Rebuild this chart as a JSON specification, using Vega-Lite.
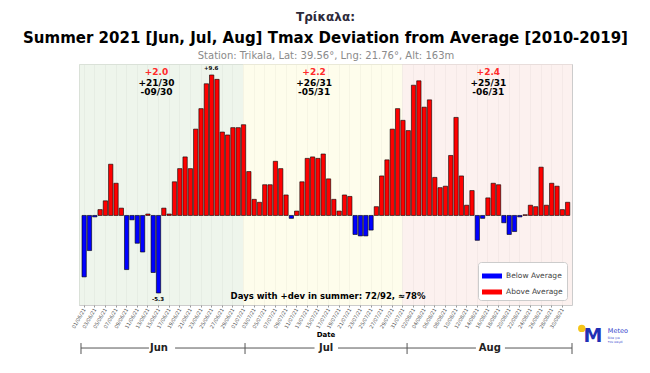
{
  "$schema": "https://vega.github.io/schema/vega-lite/v6.json",
  "width": 493,
  "height": 241,
  "autosize": {"type": "none"},
  "padding": {"left": 79, "top": 64, "right": 78, "bottom": 68},
  "background": "#ffffff",
  "config": {
    "font": "DejaVu Sans",
    "view": {"stroke": "#cccccc", "strokeWidth": 1}
  },
  "title": {
    "text": "Τρίκαλα:",
    "subtitle": "Summer 2021 [Jun, Jul, Aug] Tmax Deviation from Average [2010-2019]",
    "anchor": "middle",
    "font": "DejaVu Sans",
    "fontSize": 12,
    "fontWeight": "bold",
    "color": "#2d2a3a",
    "subtitleFont": "DejaVu Sans",
    "subtitleFontSize": 15,
    "subtitleFontWeight": "bold",
    "subtitleColor": "#000000",
    "subtitlePadding": 7,
    "offset": 3
  },
  "resolve": {"axis": {"x": "independent"}, "scale": {"color": "independent"}, "legend": {"color": "independent"}},
  "layer": [
    {
      "data": {"values": [
        {"d": "2021-05-31T15:00:00Z", "d2": "2021-07-01T12:00:00Z", "m": "Jun"},
        {"d": "2021-07-01T12:00:00Z", "d2": "2021-07-31T12:00:00Z", "m": "Jul"},
        {"d": "2021-07-31T12:00:00Z", "d2": "2021-09-01T10:00:00Z", "m": "Aug"}
      ]},
      "mark": {"type": "rect", "opacity": 0.6},
      "encoding": {
        "x": {"field": "d", "type": "temporal",
          "scale": {"type": "utc", "domain": [{"year": 2021, "month": 5, "date": 31, "hours": 15, "utc": true}, {"year": 2021, "month": 9, "date": 1, "hours": 10, "utc": true}]},
          "axis": {"orient": "top", "title": "Station: Trikala, Lat: 39.56°, Lng: 21.76°, Alt: 163m", "titleFontSize": 10, "titleColor": "#8a8a8a", "titleFontWeight": "normal", "labels": false, "ticks": false, "domain": false, "grid": false, "titlePadding": 4}},
        "x2": {"field": "d2"},
        "y": {"datum": 10.35, "type": "quantitative"},
        "y2": {"datum": -6.12},
        "color": {"field": "m", "type": "nominal", "scale": {"domain": ["Jun", "Jul", "Aug"], "range": ["#e3eedf", "#fdfcdf", "#fae8e4"]}, "legend": null}
      }
    },
    {
      "data": {"values": [
        {"d": "2021-06-01", "v": -4.2, "s": "Below Average"},
        {"d": "2021-06-02", "v": -2.4, "s": "Below Average"},
        {"d": "2021-06-03", "v": -0.1, "s": "Below Average"},
        {"d": "2021-06-04", "v": 0.4, "s": "Above Average"},
        {"d": "2021-06-05", "v": 1.0, "s": "Above Average"},
        {"d": "2021-06-06", "v": 3.5, "s": "Above Average"},
        {"d": "2021-06-07", "v": 2.2, "s": "Above Average"},
        {"d": "2021-06-08", "v": 0.5, "s": "Above Average"},
        {"d": "2021-06-09", "v": -3.7, "s": "Below Average"},
        {"d": "2021-06-10", "v": -0.3, "s": "Below Average"},
        {"d": "2021-06-11", "v": -1.9, "s": "Below Average"},
        {"d": "2021-06-12", "v": -2.5, "s": "Below Average"},
        {"d": "2021-06-13", "v": 0.1, "s": "Above Average"},
        {"d": "2021-06-14", "v": -3.9, "s": "Below Average"},
        {"d": "2021-06-15", "v": -5.3, "s": "Below Average"},
        {"d": "2021-06-16", "v": 0.5, "s": "Above Average"},
        {"d": "2021-06-17", "v": 0.1, "s": "Above Average"},
        {"d": "2021-06-18", "v": 2.3, "s": "Above Average"},
        {"d": "2021-06-19", "v": 3.2, "s": "Above Average"},
        {"d": "2021-06-20", "v": 4.0, "s": "Above Average"},
        {"d": "2021-06-21", "v": 3.2, "s": "Above Average"},
        {"d": "2021-06-22", "v": 5.9, "s": "Above Average"},
        {"d": "2021-06-23", "v": 7.3, "s": "Above Average"},
        {"d": "2021-06-24", "v": 9.0, "s": "Above Average"},
        {"d": "2021-06-25", "v": 9.6, "s": "Above Average"},
        {"d": "2021-06-26", "v": 9.3, "s": "Above Average"},
        {"d": "2021-06-27", "v": 5.7, "s": "Above Average"},
        {"d": "2021-06-28", "v": 5.5, "s": "Above Average"},
        {"d": "2021-06-29", "v": 6.0, "s": "Above Average"},
        {"d": "2021-06-30", "v": 6.0, "s": "Above Average"},
        {"d": "2021-07-01", "v": 6.2, "s": "Above Average"},
        {"d": "2021-07-02", "v": 3.0, "s": "Above Average"},
        {"d": "2021-07-03", "v": 1.1, "s": "Above Average"},
        {"d": "2021-07-04", "v": 0.9, "s": "Above Average"},
        {"d": "2021-07-05", "v": 2.1, "s": "Above Average"},
        {"d": "2021-07-06", "v": 2.1, "s": "Above Average"},
        {"d": "2021-07-07", "v": 3.7, "s": "Above Average"},
        {"d": "2021-07-08", "v": 3.2, "s": "Above Average"},
        {"d": "2021-07-09", "v": 1.4, "s": "Above Average"},
        {"d": "2021-07-10", "v": -0.2, "s": "Below Average"},
        {"d": "2021-07-11", "v": 0.3, "s": "Above Average"},
        {"d": "2021-07-12", "v": 2.3, "s": "Above Average"},
        {"d": "2021-07-13", "v": 3.9, "s": "Above Average"},
        {"d": "2021-07-14", "v": 4.0, "s": "Above Average"},
        {"d": "2021-07-15", "v": 3.9, "s": "Above Average"},
        {"d": "2021-07-16", "v": 4.2, "s": "Above Average"},
        {"d": "2021-07-17", "v": 2.5, "s": "Above Average"},
        {"d": "2021-07-18", "v": 1.1, "s": "Above Average"},
        {"d": "2021-07-19", "v": 0.3, "s": "Above Average"},
        {"d": "2021-07-20", "v": 1.4, "s": "Above Average"},
        {"d": "2021-07-21", "v": 1.3, "s": "Above Average"},
        {"d": "2021-07-22", "v": -1.3, "s": "Below Average"},
        {"d": "2021-07-23", "v": -1.4, "s": "Below Average"},
        {"d": "2021-07-24", "v": -1.4, "s": "Below Average"},
        {"d": "2021-07-25", "v": -1.0, "s": "Below Average"},
        {"d": "2021-07-26", "v": 0.6, "s": "Above Average"},
        {"d": "2021-07-27", "v": 2.7, "s": "Above Average"},
        {"d": "2021-07-28", "v": 3.8, "s": "Above Average"},
        {"d": "2021-07-29", "v": 5.9, "s": "Above Average"},
        {"d": "2021-07-30", "v": 7.3, "s": "Above Average"},
        {"d": "2021-07-31", "v": 6.5, "s": "Above Average"},
        {"d": "2021-08-01", "v": 5.8, "s": "Above Average"},
        {"d": "2021-08-02", "v": 8.9, "s": "Above Average"},
        {"d": "2021-08-03", "v": 9.2, "s": "Above Average"},
        {"d": "2021-08-04", "v": 7.4, "s": "Above Average"},
        {"d": "2021-08-05", "v": 7.9, "s": "Above Average"},
        {"d": "2021-08-06", "v": 2.6, "s": "Above Average"},
        {"d": "2021-08-07", "v": 1.9, "s": "Above Average"},
        {"d": "2021-08-08", "v": 2.0, "s": "Above Average"},
        {"d": "2021-08-09", "v": 4.1, "s": "Above Average"},
        {"d": "2021-08-10", "v": 6.7, "s": "Above Average"},
        {"d": "2021-08-11", "v": 2.7, "s": "Above Average"},
        {"d": "2021-08-12", "v": 0.7, "s": "Above Average"},
        {"d": "2021-08-13", "v": 1.7, "s": "Above Average"},
        {"d": "2021-08-14", "v": -1.7, "s": "Below Average"},
        {"d": "2021-08-15", "v": -0.2, "s": "Below Average"},
        {"d": "2021-08-16", "v": 1.2, "s": "Above Average"},
        {"d": "2021-08-17", "v": 2.2, "s": "Above Average"},
        {"d": "2021-08-18", "v": 2.1, "s": "Above Average"},
        {"d": "2021-08-19", "v": -0.5, "s": "Below Average"},
        {"d": "2021-08-20", "v": -1.3, "s": "Below Average"},
        {"d": "2021-08-21", "v": -1.1, "s": "Below Average"},
        {"d": "2021-08-22", "v": -0.1, "s": "Below Average"},
        {"d": "2021-08-23", "v": 0.05, "s": "Above Average"},
        {"d": "2021-08-24", "v": 0.7, "s": "Above Average"},
        {"d": "2021-08-25", "v": 0.6, "s": "Above Average"},
        {"d": "2021-08-26", "v": 3.3, "s": "Above Average"},
        {"d": "2021-08-27", "v": 0.7, "s": "Above Average"},
        {"d": "2021-08-28", "v": 2.2, "s": "Above Average"},
        {"d": "2021-08-29", "v": 2.0, "s": "Above Average"},
        {"d": "2021-08-30", "v": 0.4, "s": "Above Average"},
        {"d": "2021-08-31", "v": 0.9, "s": "Above Average"}
      ]},
      "mark": {"type": "bar", "stroke": "#000000", "strokeWidth": 0.6, "opacity": 1, "timeUnitBandSize": 1, "timeUnitBandPosition": 0},
      "encoding": {
        "x": {"field": "d", "type": "temporal", "timeUnit": "utcyearmonthdate",
          "scale": {"type": "utc", "domain": [{"year": 2021, "month": 5, "date": 31, "hours": 15, "utc": true}, {"year": 2021, "month": 9, "date": 1, "hours": 10, "utc": true}]},
          "axis": {
            "values": [
              {"year": 2021, "month": 6, "date": 1, "hours": 12, "utc": true},
              {"year": 2021, "month": 6, "date": 3, "hours": 12, "utc": true},
              {"year": 2021, "month": 6, "date": 5, "hours": 12, "utc": true},
              {"year": 2021, "month": 6, "date": 7, "hours": 12, "utc": true},
              {"year": 2021, "month": 6, "date": 9, "hours": 12, "utc": true},
              {"year": 2021, "month": 6, "date": 11, "hours": 12, "utc": true},
              {"year": 2021, "month": 6, "date": 13, "hours": 12, "utc": true},
              {"year": 2021, "month": 6, "date": 15, "hours": 12, "utc": true},
              {"year": 2021, "month": 6, "date": 17, "hours": 12, "utc": true},
              {"year": 2021, "month": 6, "date": 19, "hours": 12, "utc": true},
              {"year": 2021, "month": 6, "date": 21, "hours": 12, "utc": true},
              {"year": 2021, "month": 6, "date": 23, "hours": 12, "utc": true},
              {"year": 2021, "month": 6, "date": 25, "hours": 12, "utc": true},
              {"year": 2021, "month": 6, "date": 27, "hours": 12, "utc": true},
              {"year": 2021, "month": 6, "date": 29, "hours": 12, "utc": true},
              {"year": 2021, "month": 7, "date": 1, "hours": 12, "utc": true},
              {"year": 2021, "month": 7, "date": 3, "hours": 12, "utc": true},
              {"year": 2021, "month": 7, "date": 5, "hours": 12, "utc": true},
              {"year": 2021, "month": 7, "date": 7, "hours": 12, "utc": true},
              {"year": 2021, "month": 7, "date": 9, "hours": 12, "utc": true},
              {"year": 2021, "month": 7, "date": 11, "hours": 12, "utc": true},
              {"year": 2021, "month": 7, "date": 13, "hours": 12, "utc": true},
              {"year": 2021, "month": 7, "date": 15, "hours": 12, "utc": true},
              {"year": 2021, "month": 7, "date": 17, "hours": 12, "utc": true},
              {"year": 2021, "month": 7, "date": 19, "hours": 12, "utc": true},
              {"year": 2021, "month": 7, "date": 21, "hours": 12, "utc": true},
              {"year": 2021, "month": 7, "date": 23, "hours": 12, "utc": true},
              {"year": 2021, "month": 7, "date": 25, "hours": 12, "utc": true},
              {"year": 2021, "month": 7, "date": 27, "hours": 12, "utc": true},
              {"year": 2021, "month": 7, "date": 29, "hours": 12, "utc": true},
              {"year": 2021, "month": 7, "date": 31, "hours": 12, "utc": true},
              {"year": 2021, "month": 8, "date": 2, "hours": 12, "utc": true},
              {"year": 2021, "month": 8, "date": 4, "hours": 12, "utc": true},
              {"year": 2021, "month": 8, "date": 6, "hours": 12, "utc": true},
              {"year": 2021, "month": 8, "date": 8, "hours": 12, "utc": true},
              {"year": 2021, "month": 8, "date": 10, "hours": 12, "utc": true},
              {"year": 2021, "month": 8, "date": 12, "hours": 12, "utc": true},
              {"year": 2021, "month": 8, "date": 14, "hours": 12, "utc": true},
              {"year": 2021, "month": 8, "date": 16, "hours": 12, "utc": true},
              {"year": 2021, "month": 8, "date": 18, "hours": 12, "utc": true},
              {"year": 2021, "month": 8, "date": 20, "hours": 12, "utc": true},
              {"year": 2021, "month": 8, "date": 22, "hours": 12, "utc": true},
              {"year": 2021, "month": 8, "date": 24, "hours": 12, "utc": true},
              {"year": 2021, "month": 8, "date": 26, "hours": 12, "utc": true},
              {"year": 2021, "month": 8, "date": 28, "hours": 12, "utc": true},
              {"year": 2021, "month": 8, "date": 30, "hours": 12, "utc": true}
            ],
            "format": "%d/%m/%y",
            "labelAngle": -60,
            "labelFontSize": 5,
            "labelColor": "#555555",
            "labelPadding": 1,
            "labelFlush": false,
            "labelOverlap": false,
            "tickSize": 2,
            "tickColor": "#999999",
            "domain": false,
            "grid": true,
            "gridColor": "#d4d4d4",
            "gridWidth": 0.5,
            "title": "Date",
            "titleFontSize": 7,
            "titleFontWeight": "bold",
            "titleColor": "#000000",
            "titlePadding": 2
          }
        },
        "y": {"field": "v", "type": "quantitative",
          "scale": {"domain": [-6.12, 10.35], "nice": false, "zero": false},
          "axis": {
            "values": [-6, -5, -4, -3, -2, -1, 0, 1, 2, 3, 4, 5, 6, 7, 8, 9, 10],
            "labelFontSize": 6,
            "labelColor": "#444444",
            "tickSize": 3,
            "tickColor": "#999999",
            "domain": false,
            "grid": true,
            "gridColor": "#d4d4d4",
            "gridWidth": 0.5,
            "title": "Temperature Deviation [°C]",
            "titleFontSize": 7,
            "titleFontWeight": "bold",
            "titleColor": "#000000",
            "titlePadding": 4
          }
        },
        "color": {"field": "s", "type": "nominal",
          "scale": {"domain": ["Below Average", "Above Average"], "range": ["#0000ff", "#ff0000"]},
          "legend": {
            "title": null,
            "orient": "bottom-right",
            "offset": 5,
            "fillColor": "#ffffff",
            "strokeColor": "#cccccc",
            "cornerRadius": 3,
            "padding": 4,
            "symbolType": "M-1,-0.25H1V0.25H-1Z",
            "symbolSize": 400,
            "symbolStrokeWidth": 0,
            "symbolOpacity": 1,
            "labelFontSize": 7.5,
            "labelColor": "#444444",
            "rowPadding": 2
          }
        }
      }
    },
    {
      "mark": {"type": "rule", "color": "#000000", "strokeWidth": 0.8},
      "encoding": {"y": {"datum": 0, "type": "quantitative", "axis": null}}
    },
    {
      "data": {"values": [
        {"d": "2021-06-15T05:00:00Z", "v": 9.8, "t": "+2.0"},
        {"d": "2021-07-14T21:00:00Z", "v": 9.8, "t": "+2.2"},
        {"d": "2021-08-16T16:00:00Z", "v": 9.8, "t": "+2.4"}
      ]},
      "mark": {"type": "text", "color": "#ff2a2a", "fontSize": 9, "fontWeight": "bold", "baseline": "middle"},
      "encoding": {
        "x": {"field": "d", "type": "temporal", "scale": {"type": "utc"}, "axis": null},
        "y": {"field": "v", "type": "quantitative", "axis": null},
        "text": {"field": "t"}
      }
    },
    {
      "data": {"values": [
        {"d": "2021-06-15T05:00:00Z", "v": 9.03, "t": "+21/30"},
        {"d": "2021-06-15T05:00:00Z", "v": 8.42, "t": "-09/30"},
        {"d": "2021-07-14T21:00:00Z", "v": 9.03, "t": "+26/31"},
        {"d": "2021-07-14T21:00:00Z", "v": 8.42, "t": "-05/31"},
        {"d": "2021-08-16T16:00:00Z", "v": 9.03, "t": "+25/31"},
        {"d": "2021-08-16T16:00:00Z", "v": 8.42, "t": "-06/31"}
      ]},
      "mark": {"type": "text", "color": "#000000", "fontSize": 9, "fontWeight": "bold", "baseline": "middle"},
      "encoding": {
        "x": {"field": "d", "type": "temporal", "scale": {"type": "utc"}, "axis": null},
        "y": {"field": "v", "type": "quantitative", "axis": null},
        "text": {"field": "t"}
      }
    },
    {
      "data": {"values": [
        {"d": "2021-06-25T12:00:00Z", "v": 10.08, "t": "+9.6"},
        {"d": "2021-06-15T12:00:00Z", "v": -5.73, "t": "-5.3"}
      ]},
      "mark": {"type": "text", "color": "#000000", "fontSize": 5.5, "fontWeight": "bold", "baseline": "middle"},
      "encoding": {
        "x": {"field": "d", "type": "temporal", "scale": {"type": "utc"}, "axis": null},
        "y": {"field": "v", "type": "quantitative", "axis": null},
        "text": {"field": "t"}
      }
    },
    {
      "data": {"values": [
        {"d": "2021-07-17T12:00:00Z", "v": -5.51, "t": "Days with +dev in summer: 72/92, ≈78%"}
      ]},
      "mark": {"type": "text", "color": "#000000", "fontSize": 8.5, "fontWeight": "bold", "baseline": "middle"},
      "encoding": {
        "x": {"field": "d", "type": "temporal", "scale": {"type": "utc"}, "axis": null},
        "y": {"field": "v", "type": "quantitative", "axis": null},
        "text": {"field": "t"}
      }
    },
    {
      "data": {"values": [
        {"d": "2021-06-01T00:00:00Z", "d2": "2021-06-13T19:00:00Z"},
        {"d": "2021-06-18T17:00:00Z", "d2": "2021-07-01T21:00:00Z"},
        {"d": "2021-07-01T21:00:00Z", "d2": "2021-07-14T23:00:00Z"},
        {"d": "2021-07-19T09:00:00Z", "d2": "2021-08-01T09:00:00Z"},
        {"d": "2021-08-01T09:00:00Z", "d2": "2021-08-14T08:00:00Z"},
        {"d": "2021-08-19T19:00:00Z", "d2": "2021-09-01T10:00:00Z"}
      ]},
      "mark": {"type": "rule", "color": "#555555", "strokeWidth": 1},
      "encoding": {
        "x": {"field": "d", "type": "temporal", "scale": {"type": "utc"}, "axis": null},
        "x2": {"field": "d2"},
        "y": {"datum": -9.06, "type": "quantitative", "axis": null}
      }
    },
    {
      "data": {"values": [
        {"d": "2021-06-01T00:00:00Z"},
        {"d": "2021-07-01T21:00:00Z"},
        {"d": "2021-08-01T09:00:00Z"},
        {"d": "2021-09-01T10:00:00Z"}
      ]},
      "mark": {"type": "rule", "color": "#555555", "strokeWidth": 1},
      "encoding": {
        "x": {"field": "d", "type": "temporal", "scale": {"type": "utc"}, "axis": null},
        "y": {"datum": -8.72, "type": "quantitative", "axis": null},
        "y2": {"datum": -9.47}
      }
    },
    {
      "data": {"values": [
        {"d": "2021-06-15T16:00:00Z", "t": "Jun"},
        {"d": "2021-07-17T03:00:00Z", "t": "Jul"},
        {"d": "2021-08-16T23:00:00Z", "t": "Aug"}
      ]},
      "mark": {"type": "text", "color": "#222222", "fontSize": 10, "fontWeight": "bold", "baseline": "middle"},
      "encoding": {
        "x": {"field": "d", "type": "temporal", "scale": {"type": "utc"}, "axis": null},
        "y": {"datum": -9.06, "type": "quantitative", "axis": null},
        "text": {"field": "t"}
      }
    },
    {
      "data": {"values": [{"d": "2021-09-05T09:00:00Z", "t": "M"}]},
      "mark": {"type": "text", "color": "#1f2fb5", "fontSize": 19, "fontWeight": "bold", "baseline": "middle"},
      "encoding": {
        "x": {"field": "d", "type": "temporal", "scale": {"type": "utc"}, "axis": null},
        "y": {"datum": -8.21, "type": "quantitative", "axis": null},
        "text": {"field": "t"}
      }
    },
    {
      "data": {"values": [{"d": "2021-09-03T06:00:00Z"}]},
      "mark": {"type": "circle", "color": "#f5c518", "size": 55, "opacity": 1},
      "encoding": {
        "x": {"field": "d", "type": "temporal", "scale": {"type": "utc"}, "axis": null},
        "y": {"datum": -7.72, "type": "quantitative", "axis": null}
      }
    },
    {
      "data": {"values": [{"d": "2021-09-08T04:00:00Z", "t": "Meteo"}]},
      "mark": {"type": "text", "color": "#3344cc", "fontSize": 6.5, "align": "left", "baseline": "middle"},
      "encoding": {
        "x": {"field": "d", "type": "temporal", "scale": {"type": "utc"}, "axis": null},
        "y": {"datum": -7.9, "type": "quantitative", "axis": null},
        "text": {"field": "t"}
      }
    },
    {
      "data": {"values": [
        {"d": "2021-09-08T04:00:00Z", "v": -8.35, "t": "Όλα για"},
        {"d": "2021-09-08T04:00:00Z", "v": -8.6, "t": "τον καιρό"}
      ]},
      "mark": {"type": "text", "color": "#3344cc", "fontSize": 3, "align": "left", "baseline": "middle"},
      "encoding": {
        "x": {"field": "d", "type": "temporal", "scale": {"type": "utc"}, "axis": null},
        "y": {"field": "v", "type": "quantitative", "axis": null},
        "text": {"field": "t"}
      }
    }
  ]
}
